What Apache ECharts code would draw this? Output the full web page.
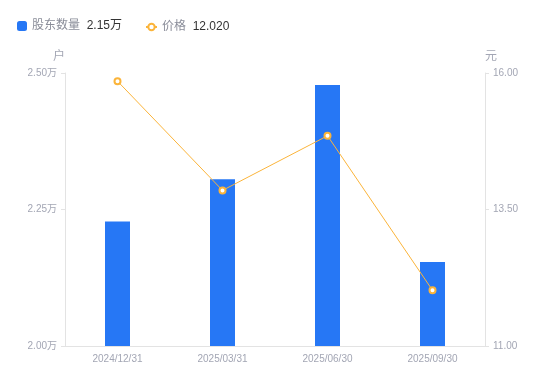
<!doctype html>
<html>
<head>
<meta charset="utf-8">
<title>股东数量 / 价格</title>
<style>
  html, body { margin: 0; padding: 0; background: #fff; }
  #main { width: 550px; height: 381px; }
</style>
</head>
<body>
<div id="main"></div>
<script src="https://cdn.jsdelivr.net/npm/echarts@6/dist/echarts.min.js"></script>
<script>
var dates = ['2024/12/31', '2025/03/31', '2025/06/30', '2025/09/30'];
var holders = [22280, 23055, 24780, 21540];
var prices = [15.85, 13.85, 14.85, 12.02];
var leftTicks = [20000, 25000, 2500];
var rightTicks = [11, 16, 2.5];

var font = '"Liberation Sans", "Noto Sans CJK SC", sans-serif';
var gray = '#a3a6b4';

function wan(v) { return (v / 10000).toFixed(2) + '万'; }

function legendText(name) {
    var v = name === '股东数量' ? wan(holders[holders.length - 1]) : prices[prices.length - 1].toFixed(3);
    return '{n|' + name + '}  {v|' + v + '}';
}
var legendRich = {
    n: { fontSize: 12, color: '#8a8d99', fontFamily: font },
    v: { fontSize: 12, color: '#333', fontFamily: font }
};

var chart = echarts.init(document.getElementById('main'));
chart.setOption({
    animation: false,
    textStyle: { fontFamily: font },
    legend: [{
        data: ['股东数量'],
        left: 12,
        top: 15,
        itemWidth: 10,
        itemHeight: 10,
        formatter: legendText,
        textStyle: { rich: legendRich }
    }, {
        data: ['价格'],
        left: 140,
        top: 16,
        itemWidth: 11,
        itemHeight: 8,
        formatter: legendText,
        textStyle: { rich: legendRich }
    }],
    grid: { left: 65, right: 65, top: 73, bottom: 35 },
    xAxis: {
        type: 'category',
        data: dates,
        axisLine: { lineStyle: { color: '#e3e3e3' } },
        axisTick: { show: false },
        axisLabel: { color: gray, fontSize: 10, margin: 8 }
    },
    yAxis: [{
        type: 'value',
        name: '户',
        nameGap: 10,
        nameTextStyle: { color: gray, fontSize: 12, align: 'right' },
        min: leftTicks[0],
        max: leftTicks[1],
        interval: leftTicks[2],
        axisLine: { show: true, lineStyle: { color: '#e3e3e3' } },
        axisTick: { show: true, length: 4, lineStyle: { color: '#e3e3e3' } },
        splitLine: { show: false },
        axisLabel: { color: gray, fontSize: 10, margin: 8, formatter: wan }
    }, {
        type: 'value',
        name: '元',
        nameGap: 10,
        nameTextStyle: { color: gray, fontSize: 12, align: 'left' },
        min: rightTicks[0],
        max: rightTicks[1],
        interval: rightTicks[2],
        axisLine: { show: true, lineStyle: { color: '#e3e3e3' } },
        axisTick: { show: true, length: 4, lineStyle: { color: '#e3e3e3' } },
        splitLine: { show: false },
        axisLabel: { color: gray, fontSize: 10, margin: 8, formatter: function (v) { return v.toFixed(2); } }
    }],
    series: [{
        name: '股东数量',
        type: 'bar',
        data: holders,
        barWidth: 25,
        itemStyle: { color: '#2677f5' }
    }, {
        name: '价格',
        type: 'line',
        yAxisIndex: 1,
        data: prices,
        symbol: 'emptyCircle',
        symbolSize: 6,
        lineStyle: { color: '#fbb43a', width: 1 },
        itemStyle: { color: '#fbb43a', borderWidth: 2 }
    }]
});
window.addEventListener('resize', function () { chart.resize(); });
</script>
</body>
</html>
